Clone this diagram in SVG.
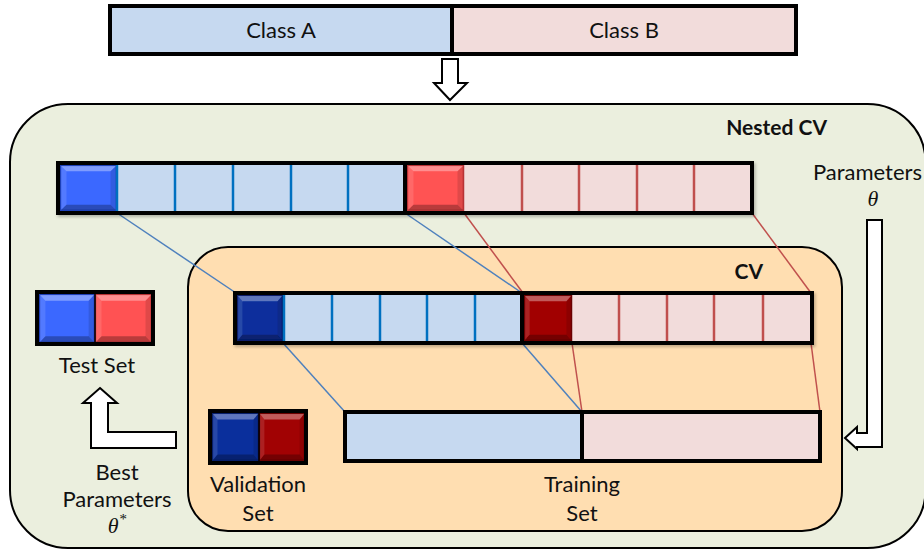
<svg xmlns="http://www.w3.org/2000/svg" width="924" height="552" viewBox="0 0 924 552">
<style>
.txt{font-family:Lato,"Liberation Sans",sans-serif;font-size:22px;fill:#111;text-anchor:middle}
.bold{font-weight:bold;font-size:21px}
.math{font-family:"Liberation Serif",serif;font-style:italic;font-size:22px;fill:#111;text-anchor:middle}
.outline{fill:none;stroke:#000;stroke-width:4}
.sep{stroke:#000;stroke-width:4}
.lb{fill:#C6D9F0}
.lr{fill:#F2DCDB}
.dvb{stroke:#0070C0;stroke-width:2.5}
.dvr{stroke:#C0504D;stroke-width:2.5}
.cb{stroke:#4F81BD;stroke-width:1.5;fill:none}
.cr{stroke:#C0504D;stroke-width:1.5;fill:none}
.hollow{fill:#fff;stroke:#000;stroke-width:2;stroke-linejoin:miter}
.sqB{fill:#3B68FF;stroke:#1F3FB8;stroke-width:1.5}
.sqR{fill:#FF5253;stroke:#B83234;stroke-width:1.5}
.sqDB{fill:#0A2F9C;stroke:#071F6A;stroke-width:1.5}
.sqDR{fill:#A10203;stroke:#6A0000;stroke-width:1.5}
</style>
<defs>
<symbol id="bevel" viewBox="0 0 100 100" preserveAspectRatio="none">
<polygon points="0,0 100,0 90,12 10,12" fill="#fff" fill-opacity="0.35"/>
<polygon points="0,0 10,12 10,88 0,100" fill="#fff" fill-opacity="0.12"/>
<polygon points="100,0 100,100 90,88 90,12" fill="#000" fill-opacity="0.12"/>
<polygon points="0,100 10,88 90,88 100,100" fill="#000" fill-opacity="0.28"/>
</symbol>
<filter id="sh" x="-5%" y="-20%" width="110%" height="150%">
<feDropShadow dx="1.5" dy="2" stdDeviation="1.5" flood-color="#000" flood-opacity="0.25"/>
</filter>
</defs>

<g id="dataset">
<rect x="110" y="6" width="342" height="48" class="lb"/>
<rect x="452" y="6" width="344" height="48" class="lr"/>
<rect x="110" y="6" width="686" height="48" class="outline"/>
<line x1="452" y1="6" x2="452" y2="54" class="sep"/>
<text x="281" y="38" class="txt">Class A</text>
<text x="624" y="38" class="txt">Class B</text>
</g>

<g id="split-arrow">
<polygon points="442,59 458,59 458,83 467,83 450,100 434,83 442,83" class="hollow"/>
</g>

<g id="nested-cv">
<rect x="10" y="104" width="915.5" height="444" rx="58" fill="#EBEFDE" stroke="#000" stroke-width="2"/>
<text x="827" y="135" class="txt bold" style="text-anchor:end">Nested CV</text>
</g>

<g id="cv">
<rect x="188" y="247" width="654" height="284" rx="40" fill="#FFDEB1" stroke="#000" stroke-width="2"/>
<text x="763" y="279" class="txt bold" style="text-anchor:end">CV</text>
</g>

<g id="connectors">
<line x1="117" y1="213" x2="236" y2="293" class="cb"/>
<line x1="405" y1="213" x2="522" y2="293" class="cb"/>
<line x1="464" y1="213" x2="523" y2="293" class="cr"/>
<line x1="752" y1="213" x2="811" y2="293" class="cr"/>
<line x1="283" y1="343" x2="345" y2="412" class="cb"/>
<line x1="522" y1="343" x2="582" y2="412" class="cb"/>
<line x1="572" y1="343" x2="582" y2="412" class="cr"/>
<line x1="811" y1="343" x2="820" y2="412" class="cr"/>
</g>

<g id="outer-folds" filter="url(#sh)">
<rect x="58" y="163" width="347" height="50" class="lb"/>
<rect x="405" y="163" width="347" height="50" class="lr"/>
<line x1="175" y1="165" x2="175" y2="211" class="dvb"/>
<line x1="233" y1="165" x2="233" y2="211" class="dvb"/>
<line x1="291" y1="165" x2="291" y2="211" class="dvb"/>
<line x1="348" y1="165" x2="348" y2="211" class="dvb"/>
<line x1="522" y1="165" x2="522" y2="211" class="dvr"/>
<line x1="579" y1="165" x2="579" y2="211" class="dvr"/>
<line x1="637" y1="165" x2="637" y2="211" class="dvr"/>
<line x1="694" y1="165" x2="694" y2="211" class="dvr"/>
<rect x="60.5" y="165.5" width="56" height="45" class="sqB"/>
<use href="#bevel" x="61" y="166" width="55" height="44"/>
<line x1="117" y1="165" x2="117" y2="211" class="dvb"/>
<rect x="407.5" y="165.5" width="56" height="45" class="sqR"/>
<use href="#bevel" x="408" y="166" width="55" height="44"/>
<rect x="58" y="163" width="694" height="50" class="outline"/>
<line x1="405" y1="163" x2="405" y2="213" class="sep"/>
</g>

<g id="inner-folds" filter="url(#sh)">
<rect x="235" y="293" width="287" height="50" class="lb"/>
<rect x="522" y="293" width="290" height="50" class="lr"/>
<line x1="332" y1="295" x2="332" y2="341" class="dvb"/>
<line x1="380" y1="295" x2="380" y2="341" class="dvb"/>
<line x1="427" y1="295" x2="427" y2="341" class="dvb"/>
<line x1="475" y1="295" x2="475" y2="341" class="dvb"/>
<line x1="619" y1="295" x2="619" y2="341" class="dvr"/>
<line x1="667" y1="295" x2="667" y2="341" class="dvr"/>
<line x1="714" y1="295" x2="714" y2="341" class="dvr"/>
<line x1="763" y1="295" x2="763" y2="341" class="dvr"/>
<rect x="237.5" y="295.5" width="45" height="45" class="sqDB"/>
<use href="#bevel" x="238" y="296" width="44" height="44"/>
<line x1="284" y1="295" x2="284" y2="341" class="dvb"/>
<rect x="524.5" y="295.5" width="47" height="45" class="sqDR"/>
<use href="#bevel" x="525" y="296" width="46" height="44"/>
<rect x="235" y="293" width="577" height="50" class="outline"/>
<line x1="522" y1="293" x2="522" y2="343" class="sep"/>
</g>

<g id="training-set">
<rect x="345" y="412" width="237" height="49" class="lb"/>
<rect x="582" y="412" width="238" height="49" class="lr"/>
<rect x="345" y="412" width="475" height="49" class="outline"/>
<line x1="582" y1="412" x2="582" y2="461" class="sep"/>
<text x="582" y="492" class="txt">Training</text>
<text x="582" y="521" class="txt">Set</text>
</g>

<g id="validation-set">
<rect x="212.5" y="413.5" width="46" height="47" class="sqDB"/>
<use href="#bevel" x="213" y="414" width="45" height="46"/>
<rect x="259.5" y="413.5" width="45" height="47" class="sqDR"/>
<use href="#bevel" x="260" y="414" width="44" height="46"/>
<rect x="210" y="411" width="96" height="52" class="outline"/>
<line x1="259" y1="411" x2="259" y2="463" stroke="#000" stroke-width="1.5"/>
<text x="258" y="492" class="txt">Validation</text>
<text x="258" y="521" class="txt">Set</text>
</g>

<g id="test-set">
<rect x="39.5" y="294.5" width="55" height="48" class="sqB"/>
<use href="#bevel" x="40" y="295" width="54" height="47"/>
<rect x="95.5" y="294.5" width="56" height="48" class="sqR"/>
<use href="#bevel" x="96" y="295" width="55" height="47"/>
<rect x="37" y="292" width="116" height="52" class="outline"/>
<line x1="95" y1="292" x2="95" y2="344" stroke="#000" stroke-width="1.5"/>
<text x="97" y="373" class="txt">Test Set</text>
</g>

<g id="params-arrow">
<polygon points="867,220 882,220 882,447 857,447 857,449 845,438 857,427 857,433 867,433" class="hollow"/>
<text x="922" y="180" class="txt" style="text-anchor:end">Parameters</text>
<text x="873" y="206" class="math">θ</text>
</g>

<g id="best-arrow">
<polygon points="100,388 117,403 108,403 108,432 176,432 176,448 91,448 91,403 83,403" class="hollow"/>
<text x="117" y="480" class="txt">Best</text>
<text x="117" y="507" class="txt">Parameters</text>
<text x="117" y="533" class="math">θ<tspan font-size="15" dy="-9">*</tspan></text>
</g>
</svg>
